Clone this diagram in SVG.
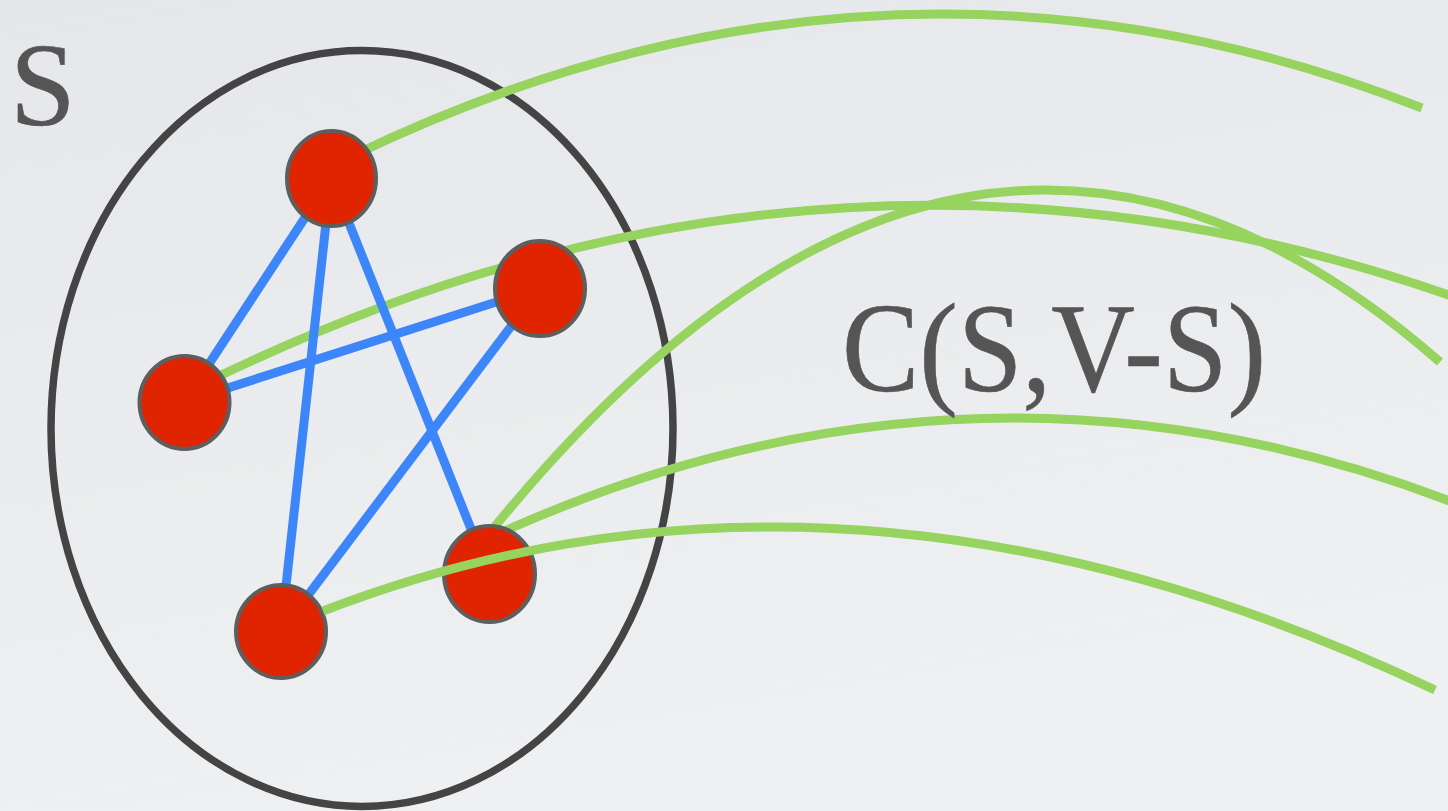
<svg xmlns="http://www.w3.org/2000/svg" width="1448" height="811" viewBox="0 0 1448 811">
  <defs>
    <linearGradient id="bg" x1="0" y1="0" x2="0.3" y2="1">
      <stop offset="0" stop-color="#e6e7ea"/>
      <stop offset="1" stop-color="#eff0f2"/>
    </linearGradient>
    <style>
      .set { fill: none; stroke: #444444; stroke-width: 7.5; }
      .edge { stroke: #3d86fa; stroke-width: 9; stroke-linecap: butt; fill: none; }
      .cut { stroke: #96d35f; stroke-width: 9; stroke-linecap: butt; fill: none; }
      .node { fill: #e02400; stroke: #5e5e5e; stroke-width: 4; }
      .lbl { fill: #555555; stroke: #555555; stroke-width: 0.6; }
    </style>
  </defs>
  <rect x="0" y="0" width="1448" height="811" fill="url(#bg)"/>

  <g id="set-S">
    <ellipse class="set" cx="362" cy="428.5" rx="311" ry="378"/>
    <text class="lbl" x="10" y="125" font-size="118" font-family="Liberation Serif, serif">S</text>
  </g>

  <g id="connectors">
    <path class="cut" d="M350,157 Q886,-102 1422,108"/>
    <path class="cut" d="M215,378 Q838,78 1460,299"/>
    <path class="cut" d="M492,530 Q966,-52 1440,362"/>
    <path class="cut" d="M500,533 Q980,318 1460,505"/>
    <line class="edge" x1="331" y1="178" x2="184" y2="402"/>
    <line class="edge" x1="331" y1="178" x2="281" y2="631"/>
    <line class="edge" x1="331" y1="178" x2="489" y2="574"/>
    <line class="edge" x1="184" y1="402" x2="540" y2="288" stroke-width="11"/>
    <line class="edge" x1="540" y1="288" x2="281" y2="631"/>
  </g>

  <g id="node1"><ellipse class="node" cx="331.5" cy="178.5" rx="44.5" ry="47.5"/></g>
  <g id="node2"><ellipse class="node" cx="184.5" cy="402.5" rx="45" ry="46.5"/></g>
  <g id="node3"><ellipse class="node" cx="540" cy="288.5" rx="45" ry="47.5"/></g>
  <g id="node4"><ellipse class="node" cx="489.5" cy="574" rx="45.5" ry="48"/></g>
  <g id="node5"><ellipse class="node" cx="281" cy="631.5" rx="45" ry="46.5"/></g>

  <g id="connectors-top">
    <path class="cut" d="M323,611 Q845,410 1435,690"/>
  </g>

  <g id="cut-label">
    <text class="lbl" x="842" y="391" font-size="127" font-family="Liberation Serif, serif" textLength="424" lengthAdjust="spacingAndGlyphs">C(S,V-S)</text>
  </g>
</svg>
